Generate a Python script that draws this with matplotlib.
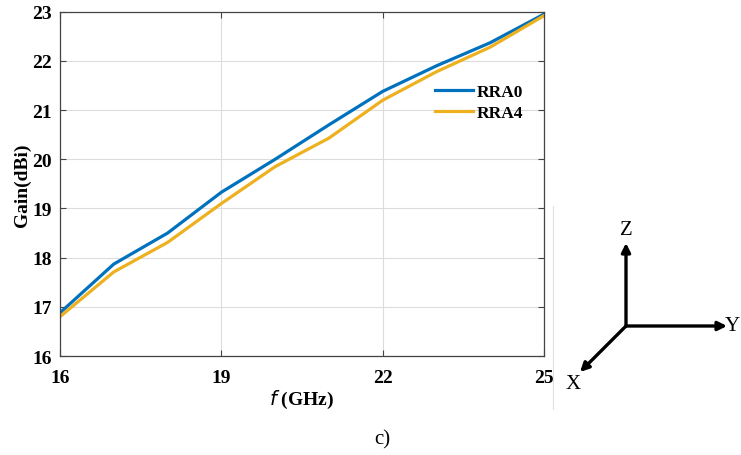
import numpy as np
import matplotlib.pyplot as plt

plt.rcParams['font.family'] = ['Liberation Serif', 'DejaVu Serif']

freq = [16, 17, 18, 19, 20, 21, 22, 23, 24, 25]
gain_rra0 = [16.88, 17.87, 18.50, 19.33, 20.00, 20.70, 21.38, 21.90, 22.37, 22.95]
gain_rra4 = [16.80, 17.71, 18.31, 19.10, 19.85, 20.43, 21.20, 21.78, 22.28, 22.92]

fig = plt.figure(figsize=(7.41, 4.56), dpi=100)
ax = fig.add_axes([0.081, 0.217, 0.653, 0.755])

ax.plot(freq, gain_rra0, color='#0072BD', lw=2.3, label='RRA0')
ax.plot(freq, gain_rra4, color='#EDB120', lw=2.3, label='RRA4')

ax.set_xlim(16, 25)
ax.set_ylim(16, 23)
ax.set_xticks([16, 19, 22, 25])
ax.set_yticks(np.arange(16, 24, 1))
ax.grid(True, color='#dcdcdc', lw=0.8)
ax.tick_params(direction='in', top=True, right=True, labelsize=14, color='#444444', length=4)
ax.tick_params(axis='x', pad=9)
ax.tick_params(axis='y', pad=6)
for lab in ax.get_xticklabels() + ax.get_yticklabels():
    lab.set_fontweight('bold')
for s in ax.spines.values():
    s.set_color('#444444')
    s.set_linewidth(0.9)

ax.set_xlabel(r'$\mathbf{\mathit{f}}$ (GHz)', fontsize=14, fontweight='bold', labelpad=2)
ax.set_ylabel('Gain(dBi)', fontsize=14, fontweight='bold', labelpad=1)

leg = ax.legend(loc='upper left', bbox_to_anchor=(0.757, 0.815), frameon=False,
                prop={'weight': 'bold', 'size': 12.5}, handlelength=2.2,
                handletextpad=0.2, labelspacing=0.25, borderpad=0)

# overlay for the axis sketch and caption (pixel coordinates)
ov = fig.add_axes([0, 0, 1, 1], facecolor='none')
ov.set_xlim(0, 741)
ov.set_ylim(456, 0)
ov.axis('off')

ov.plot([553, 553], [207, 410], color='#e0e0e0', lw=0.8)
origin = (626, 327)
arrow = dict(arrowstyle='-|>', color='black', lw=2.4, mutation_scale=13, shrinkA=0, shrinkB=0)
ov.annotate('', xy=(626, 244), xytext=origin, arrowprops=arrow)
ov.annotate('', xy=(727, 327), xytext=origin, arrowprops=arrow)
ov.annotate('', xy=(580, 373), xytext=origin, arrowprops=arrow)
ov.text(626, 231, 'Z', fontsize=15, ha='center', va='center')
ov.text(740, 327, 'Y', fontsize=15, ha='right', va='center')
ov.text(573, 385, 'X', fontsize=15, ha='center', va='center')
ov.text(382, 440, 'c)', fontsize=15, ha='center', va='center')

fig.savefig('out.png', dpi=100)
